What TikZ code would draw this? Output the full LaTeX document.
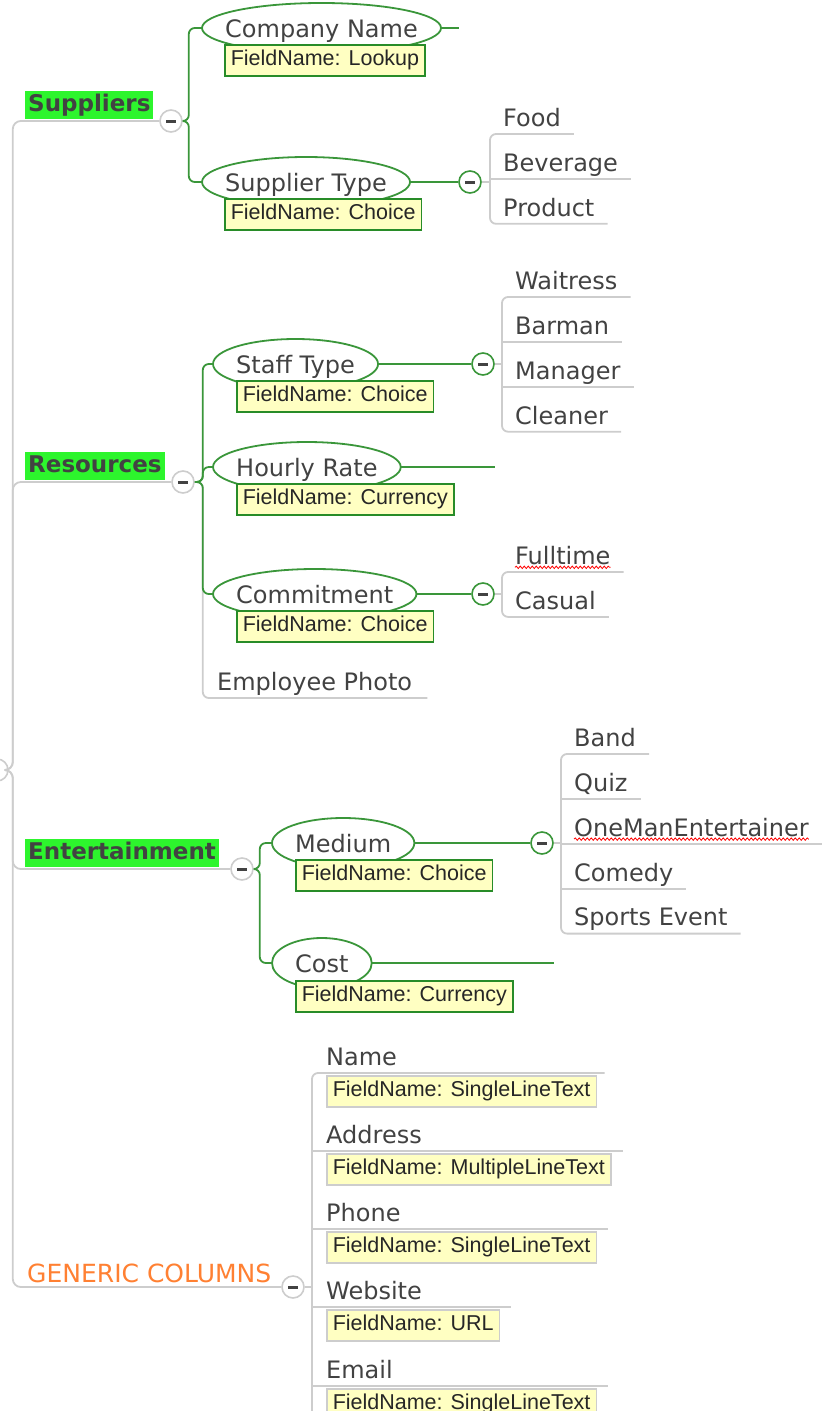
\documentclass[tikz,border=0pt]{standalone}
\usepackage{fontspec}
\setmainfont{DejaVu Sans}
\newfontfamily\notizfont{Liberation Sans}
\usepackage{tikz}
\usetikzlibrary{positioning, calc, decorations.pathmorphing}

\definecolor{linie}{RGB}{205,205,205}
\definecolor{gruen}{RGB}{58,150,58}
\definecolor{notizgelb}{RGB}{255,255,194}
\definecolor{notizrand}{RGB}{40,140,40}
\definecolor{markiert}{RGB}{45,245,45}
\definecolor{schrift}{RGB}{66,66,66}
\definecolor{orangeschrift}{RGB}{255,128,50}

\newcommand{\knopfstrich}{\rule{10pt}{3pt}}

\begin{document}
\begin{tikzpicture}[x=1pt, y=-1pt,
    every node/.style={text=schrift, font=\fontsize{24}{28}\selectfont},
    grau/.style={draw=linie, line width=1.8pt},
    gruenlinie/.style={draw=gruen, line width=1.8pt},
    knopf/.style={circle, draw=linie, line width=1.6pt, fill=white, minimum size=22pt, inner sep=0pt},
    gknopf/.style={knopf, draw=gruen},
    haupt/.style={anchor=south west, fill=markiert, font=\fontsize{23}{28}\selectfont\bfseries, inner xsep=3pt, inner ysep=2pt, text height=19pt, text depth=5pt},
    thema/.style={anchor=west, inner xsep=23pt, inner ysep=0pt, text height=18pt, text depth=0pt},
    notiz/.style={draw=notizrand, line width=1.5pt, fill=notizgelb, font=\notizfont\fontsize{21.5}{26}\selectfont, text=black!85, inner xsep=6pt, inner ysep=0pt, text height=16pt, text depth=5pt, minimum height=31pt},
    gnotiz/.style={notiz, draw=linie},
    blatt/.style={anchor=south west, inner xsep=13pt, inner ysep=2pt, text height=35pt, text depth=5.5pt},
    kringel/.style={draw=red, line width=0.8pt, decorate, decoration={snake, amplitude=1.2pt, segment length=4pt}}]

\useasboundingbox (0,0) rectangle (827,1411);

% Wurzel und Hauptzweige
\node[knopf] (wurzel) at (-3,770) {};
\node[haupt] (sup) at (25,119) {Suppliers};
\node[knopf] (sup-k) at (171,121) {\knopfstrich};
\node[haupt] (res) at (25,480) {Resources};
\node[knopf] (res-k) at (183,482) {\knopfstrich};
\node[haupt] (ent) at (25,867) {Entertainment};
\node[knopf] (ent-k) at (242,869) {\knopfstrich};
\node[anchor=south west, text=orangeschrift, font=\fontsize{25}{28}\selectfont, inner sep=1pt] (gen) at (26,1284) {GENERIC COLUMNS};
\node[knopf] (gen-k) at (293,1287) {\knopfstrich};

\foreach \k in {sup-k,res-k,ent-k,gen-k}
  \draw[grau, rounded corners=8pt] (wurzel.east) -- ++(4,0) |- (\k.west);

% Suppliers
\node[thema] (cn) at (202,28) {Company Name};
\node[thema] (sty) at (202,182) {Supplier Type};
\node[gknopf] (sty-k) at (470,182) {\knopfstrich};

\draw[gruenlinie, rounded corners=6pt] (sup-k.east) -- ++(6,0) |- (cn.west);
\draw[gruenlinie, rounded corners=6pt] (sup-k.east) -- ++(6,0) |- (sty.west);
\draw[gruenlinie] (cn.east) -- ++(18,0);
\draw[gruenlinie] (sty.east) -- (sty-k.west);

\node[blatt] (food) at (490,134) {Food};
\node[blatt, below=0pt of food.south west, anchor=north west] (bev) {Beverage};
\node[blatt, below=0pt of bev.south west, anchor=north west] (prod) {Product};
\draw[grau, rounded corners=6pt] (food.south east) -- (food.south west) -- (prod.south west) -- (prod.south east);
\draw[grau] (bev.south west) -- (bev.south east);
\draw[grau] (sty-k.east) -- (sty-k.east -| bev.south west);

% Resources
\node[thema] (stt) at (213,364) {Staff Type};
\node[thema] (hr) at (213,467) {Hourly Rate};
\node[thema] (cm) at (213,594) {Commitment};
\node[blatt, inner xsep=15pt] (photo) at (202,698) {Employee Photo};
\node[gknopf] (stt-k) at (483,364) {\knopfstrich};
\node[gknopf] (cm-k) at (483,594) {\knopfstrich};

\draw[grau, rounded corners=6pt] (res-k.east) -- ++(8,0) |- (photo.south east);
\foreach \t in {stt,hr,cm}
  \draw[gruenlinie, rounded corners=6pt] (res-k.east) -- ++(8,0) |- (\t.west);
\draw[gruenlinie] (stt.east) -- (stt-k.west);
\draw[gruenlinie] (hr.east) -- (hr.east -| stt-k.east);
\draw[gruenlinie] (cm.east) -- (cm-k.west);

\node[blatt] (wait) at (502,297) {Waitress};
\node[blatt, below=0pt of wait.south west, anchor=north west] (bar) {Barman};
\node[blatt, below=0pt of bar.south west, anchor=north west] (man) {Manager};
\node[blatt, below=0pt of man.south west, anchor=north west] (clean) {Cleaner};
\draw[grau, rounded corners=6pt] (wait.south east) -- (wait.south west) -- (clean.south west) -- (clean.south east);
\draw[grau] (bar.south west) -- (bar.south east);
\draw[grau] (man.south west) -- (man.south east);
\draw[grau] (stt-k.east) -- (stt-k.east -| wait.south west);

\node[blatt] (ft) at (502,572) {Fulltime};
\node[blatt, below=0pt of ft.south west, anchor=north west] (cas) {Casual};
\draw[grau, rounded corners=6pt] (ft.south east) -- (ft.south west) -- (cas.south west) -- (cas.south east);
\draw[grau] (cm-k.east) -- (cm-k.east -| ft.south west);
\draw[kringel] ([xshift=13pt, yshift=-3pt]ft.base west) -- ([xshift=-13pt, yshift=-3pt]ft.base east);

% Entertainment
\node[thema] (md) at (272,843) {Medium};
\node[thema] (co) at (272,963) {Cost};
\node[gknopf] (md-k) at (542,843) {\knopfstrich};

\foreach \t in {md,co}
  \draw[gruenlinie, rounded corners=6pt] (ent-k.east) -- ++(6,0) |- (\t.west);
\draw[gruenlinie] (md.east) -- (md-k.west);
\draw[gruenlinie] (co.east) -- (co.east -| md-k.east);

\node[blatt] (band) at (561,754) {Band};
\node[blatt, below=0pt of band.south west, anchor=north west] (quiz) {Quiz};
\node[blatt, below=0pt of quiz.south west, anchor=north west] (ome) {OneManEntertainer};
\node[blatt, below=0pt of ome.south west, anchor=north west] (com) {Comedy};
\node[blatt, below=0pt of com.south west, anchor=north west] (sport) {Sports Event};
\draw[grau, rounded corners=6pt] (band.south east) -- (band.south west) -- (sport.south west) -- (sport.south east);
\foreach \t in {quiz,ome,com}
  \draw[grau] (\t.south west) -- (\t.south east);
\draw[grau] (md-k.east) -- (md-k.east -| band.south west);
\draw[kringel] ([xshift=13pt, yshift=-3pt]ome.base west) -- ([xshift=-13pt, yshift=-3pt]ome.base east);

% Ellipsen
\foreach \t in {cn,sty,stt,hr,cm,md,co}
  \draw[gruenlinie] let \p1=($(\t.east)-(\t.center)$) in (\t.center) ellipse [x radius=\x1, y radius=25pt];

% Notizen
\node[notiz, below right=16pt and 22pt of cn.west] (cn-n) {FieldName: Lookup};
\node[notiz, below right=16pt and 22pt of sty.west] (sty-n) {FieldName: Choice};
\node[notiz, below right=16pt and 23pt of stt.west] (stt-n) {FieldName: Choice};
\node[notiz, below right=16pt and 23pt of hr.west] (hr-n) {FieldName: Currency};
\node[notiz, below right=16pt and 23pt of cm.west] (cm-n) {FieldName: Choice};
\node[notiz, below right=16pt and 23pt of md.west] (md-n) {FieldName: Choice};
\node[notiz, below right=17pt and 23pt of co.west] (co-n) {FieldName: Currency};

% Generic Columns
\node[blatt, inner xsep=14pt] (name) at (312,1073) {Name};
\node[blatt, inner xsep=14pt] (addr) at (312,1151) {Address};
\node[blatt, inner xsep=14pt] (phone) at (312,1229) {Phone};
\node[blatt, inner xsep=14pt] (web) at (312,1307) {Website};
\node[blatt, inner xsep=14pt] (mail) at (312,1386) {Email};
\node[gnotiz, below right=2pt and 14pt of name.south west] (name-n) {FieldName: SingleLineText};
\node[gnotiz, below right=2pt and 14pt of addr.south west] (addr-n) {FieldName: MultipleLineText};
\node[gnotiz, below right=2pt and 14pt of phone.south west] (phone-n) {FieldName: SingleLineText};
\node[gnotiz, below right=2pt and 14pt of web.south west] (web-n) {FieldName: URL};
\node[gnotiz, below right=2pt and 14pt of mail.south west] (mail-n) {FieldName: SingleLineText};

\draw[grau, rounded corners=6pt] (name-n.north east |- name.south) -- ++(11,0) -- (name.south west) -- ++(0,400);
\foreach \t in {addr,phone,web,mail}
  \draw[grau] (\t.south west) -- (\t.south west -| \t-n.east) -- ++(11,0);
\draw[grau] (gen-k.east) -- (gen-k.east -| name.south west);

\end{tikzpicture}
\end{document}
